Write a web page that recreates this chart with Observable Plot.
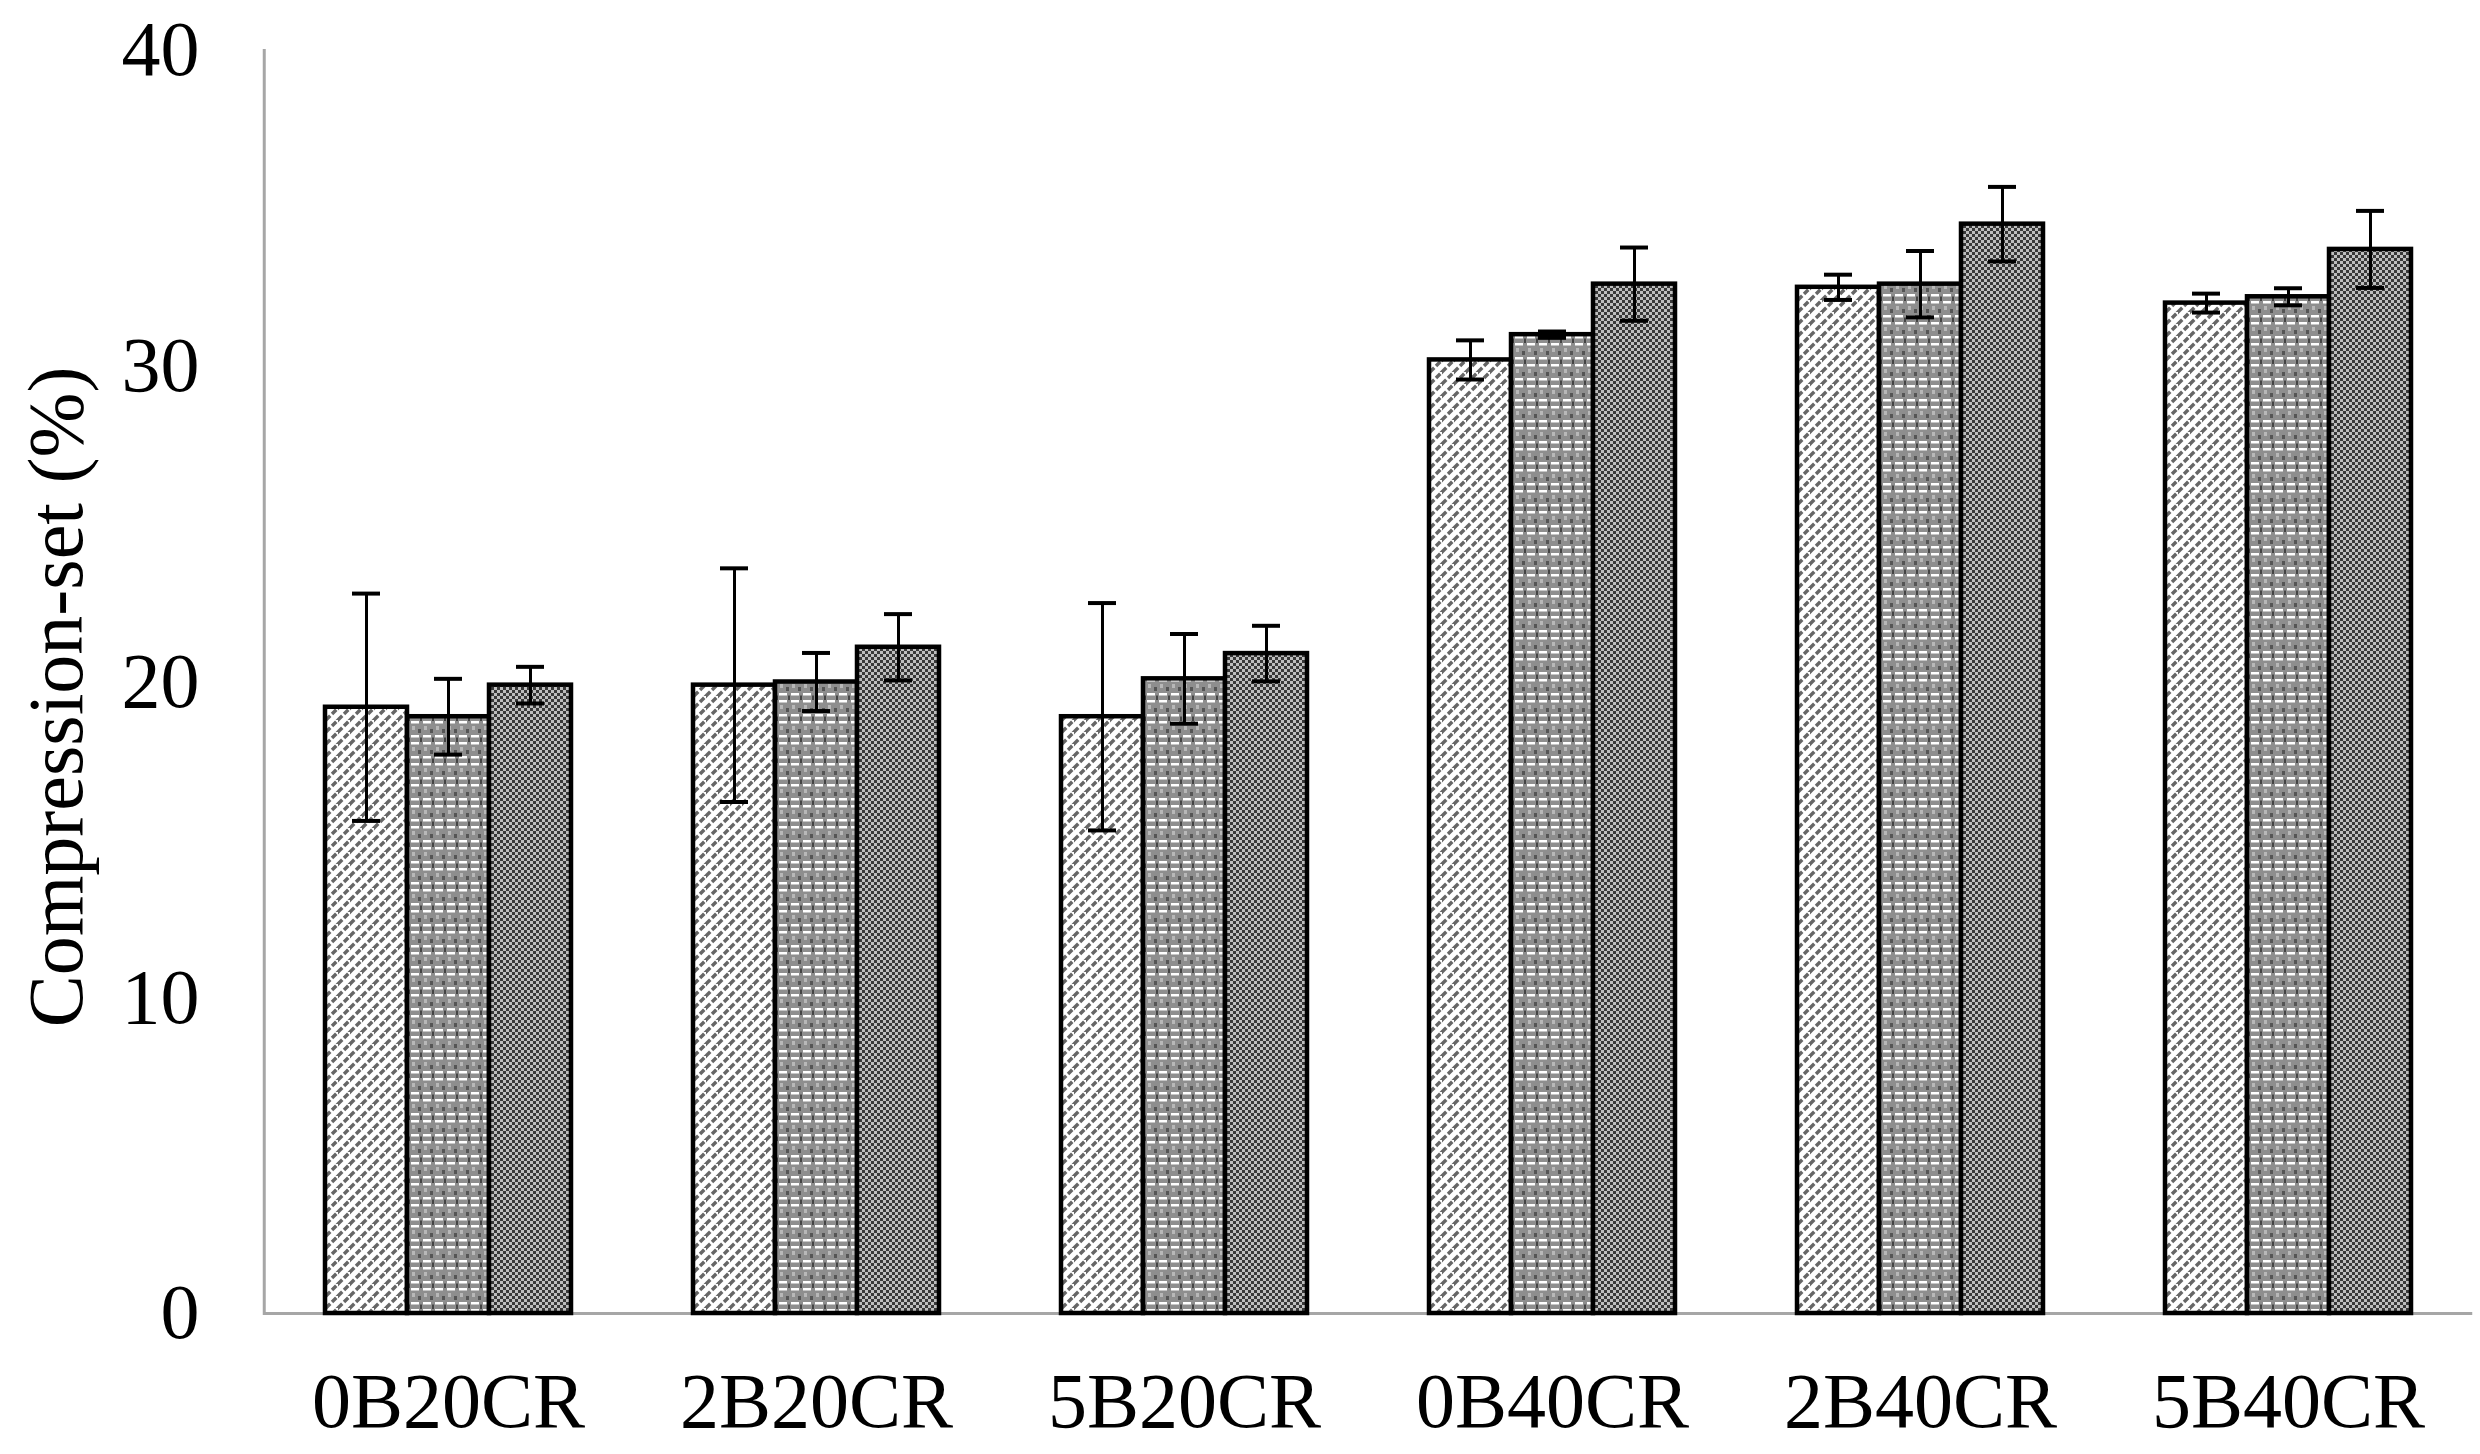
<!DOCTYPE html>
<html>
<head>
<meta charset="utf-8">
<script src="https://cdn.jsdelivr.net/npm/d3@7"></script>
<script src="https://cdn.jsdelivr.net/npm/@observablehq/plot@0.6"></script>
<style>
  html, body { margin: 0; padding: 0; background: #fff; }
  svg { display: block; }
</style>
</head>
<body>
<div id="chart"></div>
<script>
// ---- data ----
const categories = ["0B20CR", "2B20CR", "5B20CR", "0B40CR", "2B40CR", "5B40CR"];
const series = ["A", "B", "C"];
const seriesAValues = [19.2, 19.9, 18.9, 30.2, 32.5, 32.0];
const seriesBValues = [18.9, 20.0, 20.1, 31.0, 32.6, 32.2];
const seriesCValues = [19.9, 21.1, 20.9, 32.6, 34.5, 33.7];
const seriesAErrors = [3.6, 3.7, 3.6, 0.62, 0.4, 0.3];
const seriesBErrors = [1.2, 0.92, 1.42, 0.1, 1.05, 0.27];
const seriesCErrors = [0.58, 1.05, 0.88, 1.16, 1.18, 1.22];
const yTicks = [0, 10, 20, 30, 40];
const yTitle = "Compression-set (%)";

const valueArrays = [seriesAValues, seriesBValues, seriesCValues];
const errorArrays = [seriesAErrors, seriesBErrors, seriesCErrors];
const data = categories.flatMap((c, i) =>
  series.map((s, j) => ({category: c, series: s, value: valueArrays[j][i], err: errorArrays[j][i]}))
);

const font = "'Liberation Serif', 'Times New Roman', serif";
const gapHalf = 60.25; // half the gap between groups (outer padding of the facet bands)

const chart = Plot.plot({
  width: 2480,
  height: 1454,
  marginLeft: 262,
  marginRight: 7,
  marginTop: 50,
  marginBottom: 141,
  style: {fontFamily: font, fontSize: "78px", color: "#000", background: "#fff"},
  fx: {domain: categories, paddingInner: 0.327, paddingOuter: 0.1635, label: null},
  x: {domain: series, padding: 0, axis: null},
  y: {domain: [0, 40], label: null},
  color: {domain: series, range: ["url(#patA)", "url(#patB)", "url(#patC)"]},
  marks: [
    Plot.ruleY([0], {stroke: "#a6a6a6", strokeWidth: 3, insetLeft: -gapHalf, insetRight: -gapHalf}),
    Plot.barY(data, {fx: "category", x: "series", y: "value", fill: "series", stroke: "#000", strokeWidth: 4.5}),
    Plot.ruleX(data, {fx: "category", x: "series", y1: d => d.value - d.err, y2: d => d.value + d.err, stroke: "#000", strokeWidth: 3}),
    Plot.tickY(data, {fx: "category", x: "series", y: d => d.value + d.err, insetLeft: 27, insetRight: 27, stroke: "#000", strokeWidth: 4}),
    Plot.tickY(data, {fx: "category", x: "series", y: d => d.value - d.err, insetLeft: 27, insetRight: 27, stroke: "#000", strokeWidth: 4}),
    Plot.frame({facetAnchor: "left", anchor: "left", dx: -gapHalf, stroke: "#a6a6a6", strokeWidth: 3}),
    Plot.axisY({ticks: yTicks, tickSize: 0, tickPadding: 125, fontSize: 78, label: null, fill: "#000"}),
    Plot.axisFx({anchor: "bottom", tickSize: 0, tickPadding: 58, fontSize: 78, label: null, fill: "#000"}),
    Plot.text([yTitle], {facetAnchor: "left", frameAnchor: "left", textAnchor: "middle", lineAnchor: "middle", rotate: -90, dx: -267, dy: 15, fontSize: 78, fill: "#000"})
  ]
});

// ---- fill patterns ----
const svg = d3.select(chart);
const defs = svg.insert("defs", ":first-child");

// A: light, white with grey dashed upward diagonals
const pA = defs.append("pattern").attr("id", "patA").attr("patternUnits", "userSpaceOnUse")
  .attr("width", 12).attr("height", 12);
pA.append("rect").attr("width", 12).attr("height", 12).attr("fill", "#fff");
pA.append("path").attr("d", "M0,12L12,0M-2,2L2,-2M10,14L14,10")
  .attr("stroke", "#666").attr("stroke-width", 3.4).attr("stroke-dasharray", "6 2.5");

// B: medium grey with white horizontal dashed lines and dark bricks
const pB = defs.append("pattern").attr("id", "patB").attr("patternUnits", "userSpaceOnUse")
  .attr("width", 12).attr("height", 21);
pB.append("rect").attr("width", 12).attr("height", 21).attr("fill", "#8e8e8e");
pB.append("rect").attr("x", 1).attr("y", 0).attr("width", 8).attr("height", 2.5).attr("fill", "#fff");
pB.append("rect").attr("x", 1).attr("y", 7).attr("width", 8).attr("height", 2.5).attr("fill", "#fff");
pB.append("rect").attr("x", 10).attr("y", 2.5).attr("width", 2).attr("height", 4.5).attr("fill", "#444");
pB.append("rect").attr("x", 2).attr("y", 12).attr("width", 3).attr("height", 4).attr("fill", "#b8b8b8");
pB.append("rect").attr("x", 8).attr("y", 15).attr("width", 3).attr("height", 4).attr("fill", "#555");

// C: dark fine checkerboard
const pC = defs.append("pattern").attr("id", "patC").attr("patternUnits", "userSpaceOnUse")
  .attr("width", 6).attr("height", 6);
pC.append("rect").attr("width", 6).attr("height", 6).attr("fill", "#bdbdbd");
pC.append("rect").attr("x", 0).attr("y", 0).attr("width", 3).attr("height", 3).attr("fill", "#383838");
pC.append("rect").attr("x", 3).attr("y", 3).attr("width", 3).attr("height", 3).attr("fill", "#383838");

document.getElementById("chart").appendChild(chart);
</script>
</body>
</html>
